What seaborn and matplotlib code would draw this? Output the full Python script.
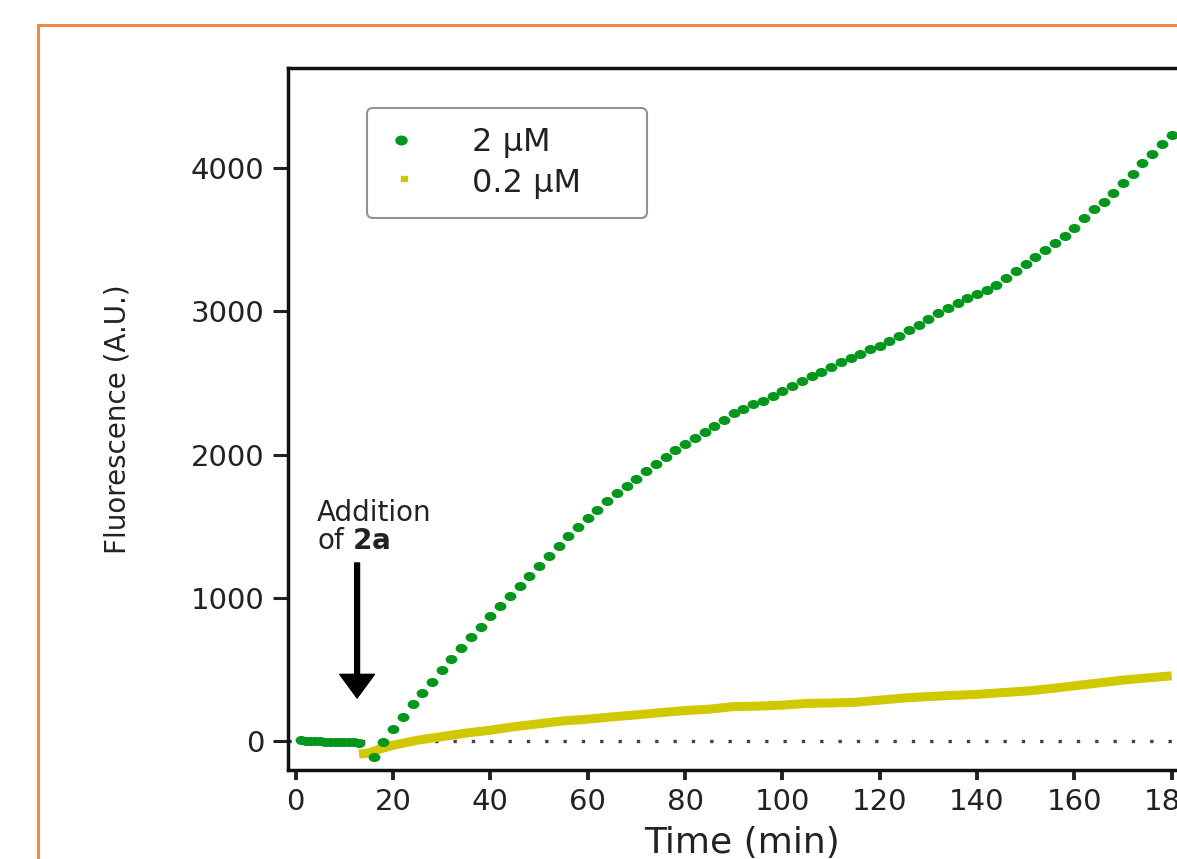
import numpy as np
import pandas as pd
import seaborn as sns
import matplotlib
matplotlib.use("Agg")
import matplotlib.pyplot as plt
from matplotlib.path import Path
from matplotlib.transforms import Affine2D
from matplotlib.lines import Line2D
from matplotlib.patches import Rectangle

# 2 uM series (green dots): baseline before addition, then every 2 min
time_2uM = [1, 2, 3, 4, 5, 6, 7, 8, 9, 10, 11, 12, 13,
            16, 18, 20, 22, 24, 26, 28, 30, 32, 34, 36, 38, 40, 42, 44, 46, 48,
            50, 52, 54, 56, 58, 60, 62, 64, 66, 68, 70, 72, 74, 76, 78, 80, 82,
            84, 86, 88, 90, 92, 94, 96, 98, 100, 102, 104, 106, 108, 110, 112,
            114, 116, 118, 120, 122, 124, 126, 128, 130, 132, 134, 136, 138,
            140, 142, 144, 146, 148, 150, 152, 154, 156, 158, 160, 162, 164,
            166, 168, 170, 172, 174, 176, 178, 180]
fluo_2uM = [5, 3, 0, -2, -3, -5, -5, -6, -8, -8, -10, -10, -12,
            -110, -5, 80, 170, 255, 335, 415, 495, 570, 650, 725, 795, 870,
            945, 1015, 1085, 1150, 1220, 1295, 1360, 1430, 1495, 1555, 1615,
            1675, 1730, 1780, 1830, 1885, 1935, 1985, 2030, 2075, 2115, 2155,
            2200, 2245, 2290, 2320, 2350, 2375, 2410, 2445, 2480, 2515, 2550,
            2580, 2615, 2645, 2675, 2705, 2735, 2760, 2790, 2830, 2870, 2905,
            2950, 2990, 3025, 3060, 3095, 3120, 3150, 3185, 3230, 3280, 3330,
            3380, 3430, 3475, 3530, 3585, 3650, 3715, 3765, 3830, 3900, 3960,
            4035, 4100, 4170, 4235]

# 0.2 uM series (yellow band)
time_02uM = [13, 15, 17, 20, 25, 30, 35, 40, 45, 50, 55, 60, 65, 70, 75, 80,
             85, 90, 95, 100, 105, 110, 115, 120, 125, 130, 135, 140, 145,
             150, 155, 160, 165, 170, 175, 180]
fluo_02uM = [-92, -85, -60, -30, 5, 30, 55, 75, 100, 120, 140, 152, 168, 182,
             198, 212, 222, 240, 243, 250, 262, 265, 270, 285, 300, 310, 318,
             325, 337, 348, 365, 385, 405, 425, 440, 455]

x_ticks = [0, 20, 40, 60, 80, 100, 120, 140, 160, 180]
y_ticks = [0, 1000, 2000, 3000, 4000]

GREEN = "#03961c"
YELLOW = "#d2c800"

sns.set_style("ticks")
plt.rcParams["font.family"] = ["DejaVu Sans"]
plt.rcParams["mathtext.fontset"] = "dejavusans"

W, H = 1177, 859
fig = plt.figure(figsize=(W / 100, H / 100), dpi=100)
ax = fig.add_axes([288 / W, 1 - 770 / H, (1196 - 288) / W, (770 - 68) / H])

# slightly wide oval dots
oval = Path.unit_circle().transformed(Affine2D().scale(1.3, 1.0))
rect = Path.unit_rectangle().transformed(Affine2D().scale(1.3, 1.0))

df_g = pd.DataFrame({"t": time_2uM, "f": fluo_2uM})
df_y = pd.DataFrame({"t": time_02uM, "f": fluo_02uM})

ax.axhline(0, color="#444444", lw=2.4, ls=(0, (1, 4.5)), zorder=1)
sns.lineplot(data=df_y, x="t", y="f", ax=ax, color=YELLOW, lw=6.5,
             solid_capstyle="butt", zorder=2, legend=False)
sns.scatterplot(data=df_g, x="t", y="f", ax=ax, color=GREEN, marker=oval,
                s=72, linewidth=0, zorder=3, legend=False)

ax.set_xlim(-1.6, 185)
ax.set_ylim(-203, 4700)
ax.set_xticks(x_ticks)
ax.set_yticks(y_ticks)
ax.tick_params(axis="x", length=7, width=2.8, pad=6, labelsize=21,
               colors="#222222")
ax.tick_params(axis="y", length=11, width=2.2, pad=6, labelsize=21,
               colors="#222222")
for side in ["left", "bottom", "top", "right"]:
    ax.spines[side].set_linewidth(2.5)
    ax.spines[side].set_color("#111111")

ax.set_xlabel("Time (min)", fontsize=26, color="#222222")
ax.set_ylabel("Fluorescence (A.U.)", fontsize=20, color="#222222")
ax.xaxis.set_label_coords(0.5, -0.08)
ax.yaxis.set_label_coords(-0.172, 0.5)

# addition marker
ax.annotate("", xy=(12.6, 300), xytext=(12.6, 1243),
            arrowprops=dict(facecolor="black", edgecolor="black", width=3.5,
                            headwidth=25, headlength=17, shrink=0))
ax.text(4.3, 1690, "Addition\nof $\\mathbf{2a}$", fontsize=20, ha="left",
        va="top", linespacing=1.0, color="#222222")

handles = [
    Line2D([0], [0], marker=oval, ls="None", color=GREEN, markersize=8),
    Line2D([0], [0], marker=rect, ls="None", color=YELLOW, markersize=9),
]
leg = ax.legend(handles, ["2 μM", "0.2 μM"], loc="upper left",
                bbox_to_anchor=(367 / W, 1 - 219 / H, 280 / W, 111 / H),
                bbox_transform=fig.transFigure, mode="expand", fontsize=23,
                frameon=True, fancybox=True, borderpad=0.6, labelspacing=0.3,
                handlelength=0.9, handletextpad=1.8, borderaxespad=0)
leg.get_frame().set_edgecolor("#777777")
leg.get_frame().set_linewidth(1.5)
for txt in leg.get_texts():
    txt.set_color("#222222")

# orange frame around the panel
fig.patches.append(Rectangle((38 / W, -0.1), 1.2, (H - 25) / H + 0.1,
                             transform=fig.transFigure, fill=False,
                             edgecolor="#ef8a3f", lw=2.2))

fig.savefig("out.png", dpi=100)
